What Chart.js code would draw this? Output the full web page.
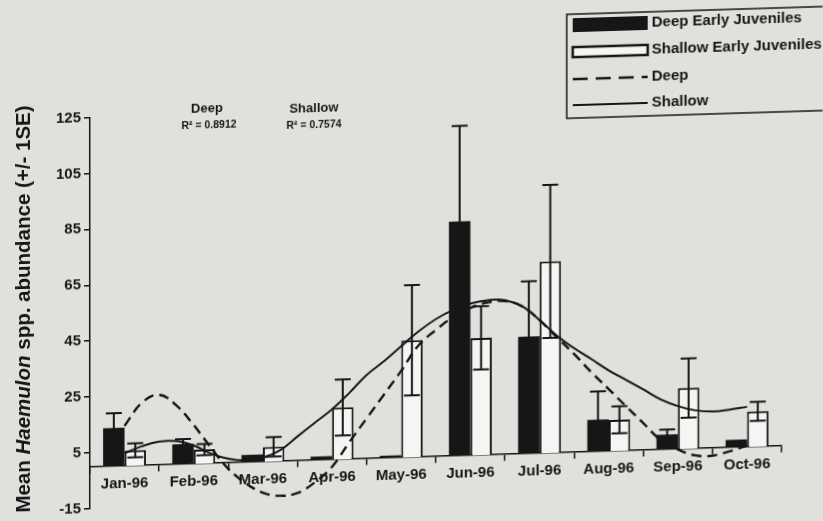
<!DOCTYPE html>
<html>
<head>
<meta charset="utf-8">
<script src="https://cdn.jsdelivr.net/npm/chart.js@4.4.0/dist/chart.umd.min.js"></script>
<style>
  html, body { margin: 0; padding: 0; background: #e0e0dd; overflow: hidden; }
  #wrap { position: relative; width: 823px; height: 521px; }
  /* the printed figure sits slightly askew on the page */
  #wrap canvas { position: absolute; left: 0; top: 0; display: block;
                 transform: skewY(-1.75deg); transform-origin: 88px 467.5px; }
</style>
</head>
<body>
<div id="wrap">
  <canvas id="bars" width="823" height="521"></canvas>
  <canvas id="fits" width="823" height="521"></canvas>
</div>
<script>
// Monthly sampling periods
const months = ['Jan-96', 'Feb-96', 'Mar-96', 'Apr-96', 'May-96', 'Jun-96', 'Jul-96', 'Aug-96', 'Sep-96', 'Oct-96'];

// Series names
const seriesNames = ['Deep Early Juveniles', 'Shallow Early Juveniles', 'Deep', 'Shallow'];

// Mean early-juvenile abundance and standard error, deep sites
const deepMeans = [13.7, 7.2, 2.6, 1.3, 0.8, 83.8, 41.9, 11.4, 5.3, 2.7];
const deepSE    = [5.3, 1.8, 0, 0, 0, 34.1, 19.7, 10.1, 1.8, 0];

// Mean early-juvenile abundance and standard error, shallow sites
const shallowMeans = [5.5, 5.0, 5.2, 18.5, 41.8, 41.9, 68.5, 11.1, 21.7, 12.6];
const shallowSE    = [2.5, 2.0, 3.5, 10.0, 19.7, 11.3, 27.4, 4.8, 10.6, 3.4];

// Fitted seasonal curves, sampled at quarter-month positions (0 = Jan, 9 = Oct)
const fitPositions = [0, 0.25, 0.5, 0.75, 1, 1.25, 1.5, 1.75, 2, 2.25, 2.5, 2.75, 3, 3.25, 3.5, 3.75,
                      4, 4.25, 4.5, 4.75, 5, 5.25, 5.5, 5.75, 6, 6.25, 6.5, 6.75, 7, 7.25, 7.5, 7.75,
                      8, 8.25, 8.5, 8.75, 9];
const deepFit = [14.5, 22.5, 25.2, 21.2, 14.0, 5.7, -2.0, -7.3, -10.9, -12.2, -11.4, -7.8, -2.4, 6.2, 14.5, 22.8,
                 31.1, 40.0, 45.3, 49.7, 52.8, 54.6, 54.9, 52.8, 47.7, 41.4, 35.2, 28.5, 22.3, 16.0, 9.8, 3.6,
                 0.0, -2.3, -2.6, -1.2, 0.7];
const shallowFit = [4.7, 7.0, 8.5, 8.5, 6.7, 3.6, 1.6, 0.8, 1.6, 4.1, 8.8, 13.5, 18.1, 23.8, 30.0, 34.7,
                    39.9, 45.0, 49.2, 52.3, 54.4, 55.4, 55.2, 52.8, 47.7, 42.0, 37.3, 33.2, 29.0, 25.4, 21.8, 18.1,
                    15.5, 13.8, 13.2, 13.7, 14.5];

// Goodness of fit for each curve
const deepR2 = '0.8912';
const shallowR2 = '0.7574';

// Value axis
const yMin = -15, yMax = 125;
const yTicks = [-15, 5, 25, 45, 65, 85, 105, 125];

const FONT = '"Liberation Sans", Arial, Helvetica, sans-serif';
const INK = '#161616';
const PAPER = '#e0e0dd';
const BAR_WHITE = '#f5f5f3';
// shared plot-area margins so both layers line up exactly
const PAD = { right: 41, top: 117.5, bottom: 11.5 };
const Y_AXIS_WIDTH = 90;

Chart.defaults.font.family = FONT;
Chart.defaults.color = INK;

const toPoints = (xs, ys) => xs.map((x, i) => ({ x: x, y: ys[i] }));

// Paper background
const paperPlugin = {
  id: 'paper',
  beforeDraw(chart) {
    const c = chart.ctx;
    c.save();
    c.fillStyle = PAPER;
    c.fillRect(0, 0, chart.width, chart.height);
    c.restore();
  }
};

// +/- 1 SE whiskers with caps on every bar
const errorBarPlugin = {
  id: 'errorBars',
  afterDatasetsDraw(chart) {
    const c = chart.ctx;
    const y = chart.scales.y;
    const sets = [[0, deepMeans, deepSE], [1, shallowMeans, shallowSE]];
    c.save();
    c.strokeStyle = INK;
    c.lineWidth = 2;
    sets.forEach(([di, means, errs]) => {
      const meta = chart.getDatasetMeta(di);
      meta.data.forEach((bar, i) => {
        const se = errs[i];
        if (!se) return;
        const top = y.getPixelForValue(means[i] + se);
        const bot = y.getPixelForValue(means[i] - se);
        const half = 8;
        c.beginPath();
        c.moveTo(bar.x, top); c.lineTo(bar.x, bot);
        c.moveTo(bar.x - half, top); c.lineTo(bar.x + half, top);
        c.moveTo(bar.x - half, bot); c.lineTo(bar.x + half, bot);
        c.stroke();
      });
    });
    c.restore();
  }
};

// Curve labels with R-squared values, legend box and axis title
const textPlugin = {
  id: 'figureText',
  afterDraw(chart) {
    const c = chart.ctx;
    c.save();
    c.fillStyle = INK;
    c.textAlign = 'center';
    c.textBaseline = 'middle';

    c.font = 'bold 13px ' + FONT;
    c.fillText(seriesNames[2], 207, 112);
    c.fillText(seriesNames[3], 314, 115);
    c.font = 'bold 10.5px ' + FONT;
    c.fillText('R\u00B2 = ' + deepR2, 209, 129);
    c.fillText('R\u00B2 = ' + shallowR2, 314, 132);

    // legend
    const bx = 567, by = 29, bw = 270, bh = 104;
    c.lineWidth = 1.5;
    c.strokeStyle = INK;
    c.strokeRect(bx, by, bw, bh);
    const sx0 = 573, sx1 = 648, tx = 652;
    const rows = [40, 67, 94, 120];
    c.textAlign = 'left';
    c.font = 'bold 15px ' + FONT;
    // filled swatch
    c.fillStyle = INK;
    c.fillRect(sx0, rows[0] - 7, sx1 - sx0, 14);
    c.fillText(seriesNames[0], tx, rows[0]);
    // open swatch
    c.fillStyle = BAR_WHITE;
    c.fillRect(sx0, rows[1] - 5, sx1 - sx0, 10);
    c.lineWidth = 2.5;
    c.strokeRect(sx0, rows[1] - 5, sx1 - sx0, 10);
    c.fillStyle = INK;
    c.fillText(seriesNames[1], tx, rows[1]);
    // dashed line
    c.lineWidth = 2.5;
    c.setLineDash([15, 8]);
    c.beginPath(); c.moveTo(sx0, rows[2]); c.lineTo(sx1, rows[2]); c.stroke();
    c.setLineDash([]);
    c.fillText(seriesNames[2], tx, rows[2]);
    // solid line
    c.lineWidth = 2;
    c.beginPath(); c.moveTo(sx0, rows[3]); c.lineTo(sx1, rows[3]); c.stroke();
    c.fillText(seriesNames[3], tx, rows[3]);

    // y-axis title with italic genus name
    const parts = [['Mean ', false], ['Haemulon', true], [' spp. abundance (+/- 1SE)', false]];
    const size = 20.5;
    const fontFor = it => (it ? 'italic ' : '') + 'bold ' + size + 'px ' + FONT;
    let total = 0;
    parts.forEach(([t, it]) => { c.font = fontFor(it); total += c.measureText(t).width; });
    c.translate(24, 307);
    c.rotate(-Math.PI / 2);
    let x = -total / 2;
    c.textAlign = 'left';
    parts.forEach(([t, it]) => {
      c.font = fontFor(it);
      c.fillText(t, x, 0);
      x += c.measureText(t).width;
    });
    c.restore();
  }
};

// Bars, axes and annotations
new Chart(document.getElementById('bars'), {
  type: 'bar',
  data: {
    labels: months,
    datasets: [
      {
        label: seriesNames[0],
        data: deepMeans,
        backgroundColor: INK,
        borderColor: INK,
        borderWidth: 0
      },
      {
        label: seriesNames[1],
        data: shallowMeans,
        backgroundColor: BAR_WHITE,
        borderColor: INK,
        borderWidth: 2
      }
    ]
  },
  options: {
    responsive: false,
    animation: false,
    layout: { padding: { left: 0, right: PAD.right, top: PAD.top, bottom: PAD.bottom } },
    datasets: { bar: { categoryPercentage: 0.62, barPercentage: 1.0 } },
    plugins: { legend: { display: false }, tooltip: { enabled: false } },
    scales: {
      x: {
        type: 'category',
        position: { y: 0 },
        offset: true,
        grid: { offset: true, drawOnChartArea: false, drawTicks: true, tickLength: 6, color: INK, lineWidth: 1.5 },
        border: { display: true, color: INK, width: 1.5 },
        ticks: { font: { size: 15, weight: 'bold' }, padding: 3, maxRotation: 0, autoSkip: false },
        afterFit(scale) { scale.height = 0; }
      },
      y: {
        min: yMin,
        max: yMax,
        afterBuildTicks(scale) { scale.ticks = yTicks.map(v => ({ value: v })); },
        grid: { drawOnChartArea: false, drawTicks: true, tickLength: 6, color: INK, lineWidth: 1.5 },
        border: { display: true, color: INK, width: 1.5 },
        ticks: { font: { size: 15, weight: 'bold' }, padding: 3 },
        afterFit(scale) { scale.width = Y_AXIS_WIDTH; }
      }
    }
  },
  plugins: [paperPlugin, errorBarPlugin, textPlugin]
});

// Fitted curves on a transparent layer over the same plot area
new Chart(document.getElementById('fits'), {
  type: 'line',
  data: {
    datasets: [
      {
        label: seriesNames[2],
        data: toPoints(fitPositions, deepFit),
        borderColor: INK,
        borderWidth: 2.4,
        borderDash: [10, 6],
        pointRadius: 0,
        tension: 0.4,
        fill: false
      },
      {
        label: seriesNames[3],
        data: toPoints(fitPositions, shallowFit),
        borderColor: INK,
        borderWidth: 2,
        pointRadius: 0,
        tension: 0.4,
        fill: false
      }
    ]
  },
  options: {
    responsive: false,
    animation: false,
    layout: { padding: { left: Y_AXIS_WIDTH, right: PAD.right, top: PAD.top, bottom: PAD.bottom } },
    plugins: { legend: { display: false }, tooltip: { enabled: false } },
    scales: {
      x: { type: 'linear', min: -0.5, max: 9.5, offset: false, display: false },
      y: { type: 'linear', min: yMin, max: yMax, display: false }
    }
  }
});
</script>
</body>
</html>
